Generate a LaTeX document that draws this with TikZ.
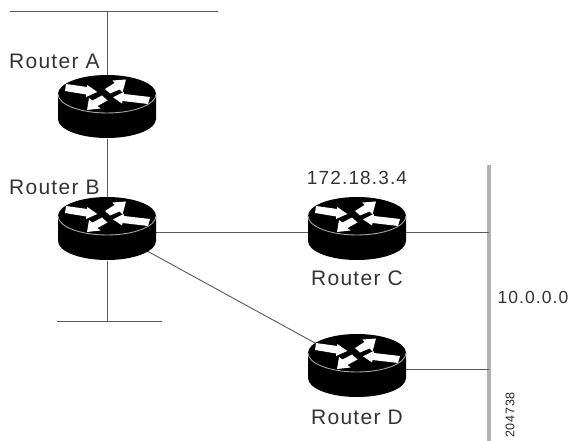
\documentclass[tikz,border=0pt]{standalone}
\usepackage{fontspec}
\setmainfont[LetterSpace=6]{Liberation Sans}
\usetikzlibrary{shapes.geometric}
\tikzset{x=1pt,y=-1pt,
  routerbox/.style={ellipse,minimum width=98pt,minimum height=64pt,inner sep=0pt},
  wire/.style={draw=black!65,line width=0.9pt},
  busline/.style={draw=black!65,line width=1pt},
  graybus/.style={draw=black!30,line width=3.2pt},
  lbl/.style={font=\fontsize{21}{23}\selectfont,text=black!80,inner sep=0pt},
  numlbl/.style={font=\fontsize{19}{21}\selectfont,text=black!80,inner sep=0pt}}
\newcommand{\routerglyph}[1]{%
  \begin{scope}[shift={(#1.center)}]
    \fill[black] (-49,-13) arc[start angle=180,end angle=360,x radius=49,y radius=19] -- (49,12) arc[start angle=0,end angle=180,x radius=49,y radius=19] -- cycle;
    \draw[black!35,line width=0.9pt] (-49,-13) arc[start angle=180,end angle=0,x radius=49,y radius=19];
    \fill[white] (-41,-23) -- (-20,-20) -- (-19.7,-22) -- (-9.7,-15) -- (-21,-10) -- (-21,-12.5) -- (-42,-16) -- cycle;
    \fill[white] (-2,-18) -- (7.5,-24) -- (5.5,-26.5) -- (19,-27.5) -- (15.5,-14.5) -- (12.5,-17.5) -- (3,-13.5) -- cycle;
    \fill[white] (43,-10) -- (17,-13) -- (16.5,-15) -- (6,-9.7) -- (15,-3.5) -- (15.5,-6) -- (41,-3) -- cycle;
    \fill[white] (-5,-11.5) -- (-14.5,-6.5) -- (-18,-9) -- (-20,3) -- (-6.5,1.5) -- (-9.5,-1) -- (0.5,-6.5) -- cycle;
  \end{scope}}
\begin{document}
\begin{tikzpicture}
\useasboundingbox (0,0) rectangle (574,441);
\node[routerbox] (ra) at (107,107) {};
\node[routerbox] (rb) at (107,229) {};
\node[routerbox] (rc) at (357,229) {};
\node[routerbox] (rd) at (357,366) {};
\coordinate (topl) at (10,12);
\coordinate (topr) at (218,12);
\coordinate (topm) at (107,12);
\coordinate (botl) at (57,322);
\coordinate (botr) at (162,322);
\coordinate (botm) at (107,322);
\coordinate (bust) at (489,165);
\coordinate (busb) at (489,441);
\coordinate (busc) at (489,232);
\coordinate (busd) at (489,369);
\draw[busline] (topl) -- (topr);
\draw[busline] (botl) -- (botr);
\draw[graybus] (bust) -- (busb);
\draw[wire] (topm) -- (ra.north);
\draw[wire] (ra.south) -- (rb.north);
\draw[wire] (rb.south) -- (botm);
\draw[wire] (rb.east |- busc) -- (rc.west |- busc);
\draw[wire] (rb) -- (rd);
\draw[wire] (rc.east |- busc) -- (busc);
\draw[wire] (rd.east |- busd) -- (busd);
\routerglyph{ra}
\routerglyph{rb}
\routerglyph{rc}
\routerglyph{rd}
\node[lbl,anchor=west] (la) at (9,61) {Router A};
\node[lbl,anchor=west] (lb) at (9,187) {Router B};
\node[lbl] (lc) at (357,278) {Router C};
\node[lbl] (ld) at (357,417) {Router D};
\node[numlbl] (ipc) at (357,178) {172.18.3.4};
\node[numlbl,font=\fontsize{17.5}{20}\selectfont] (net) at (533,297) {10.0.0.0};
\node[font=\fontsize{12.5}{13}\selectfont,text=black!85,rotate=90,inner sep=0pt] (code) at (510,415) {204738};
\end{tikzpicture}
\end{document}
